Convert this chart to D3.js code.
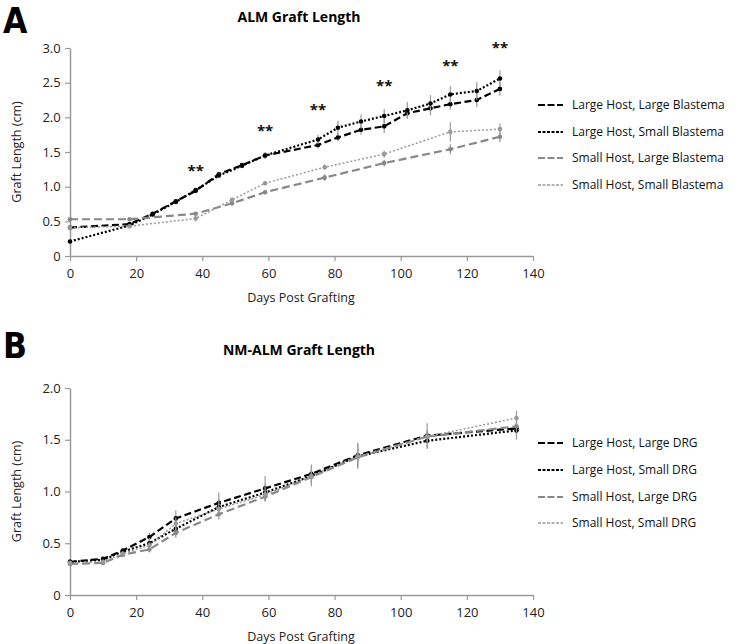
<!DOCTYPE html>
<html><head><meta charset="utf-8">
<script src="https://cdn.jsdelivr.net/npm/d3@7/dist/d3.min.js"></script>
<style>body{margin:0;background:#fff}svg{display:block;font-family:"Open Sans",sans-serif}</style>
</head><body><svg id="c" width="741" height="644"></svg>
<script>
// ---------- Panel A data ----------
const daysA_large = [0,18,25,32,38,45,52,59,75,81,88,95,102,109,115,123,130];
const A_LL = [0.41,0.46,0.61,0.79,0.94,1.18,1.31,1.45,1.60,1.71,1.82,1.87,2.06,2.13,2.19,2.25,2.41];
const A_LL_err = [0.02,0.03,0.03,0.03,0.03,0.04,0.03,0.04,0.05,0.06,0.07,0.1,0.08,0.1,0.08,0.1,0.1];
const A_LS = [0.21,0.44,0.60,0.78,0.95,1.16,1.30,1.45,1.68,1.85,1.94,2.02,2.10,2.20,2.33,2.38,2.56];
const A_LS_err = [0.02,0.02,0.03,0.03,0.03,0.04,0.03,0.05,0.07,0.1,0.1,0.1,0.12,0.12,0.12,0.13,0.12];
const daysA_small = [0,18,38,49,59,77,95,115,130];
const A_SL = [0.53,0.53,0.61,0.76,0.92,1.13,1.34,1.54,1.72];
const A_SL_err = [0.02,0.02,0.02,0.03,0.03,0.05,0.05,0.07,0.08];
const A_SS = [0.41,0.43,0.54,0.81,1.05,1.28,1.47,1.79,1.83];
const A_SS_err = [0.02,0.02,0.04,0.03,0.03,0.04,0.05,0.14,0.08];
const A_names = ["Large Host, Large Blastema","Large Host, Small Blastema","Small Host, Large Blastema","Small Host, Small Blastema"];
const A_starDays = [38,59,75,95,115,130];
const A_starVals = [1.29,1.86,2.16,2.51,2.80,3.06];
const A_yTicks = [0,0.5,1.0,1.5,2.0,2.5,3.0];

// ---------- Panel B data ----------
const daysB = [0,10,16,24,32,45,59,73,87,108,135];
const B_LL = [0.32,0.35,0.43,0.56,0.74,0.89,1.03,1.17,1.35,1.54,1.61];
const B_LL_err = [0.02,0.02,0.02,0.04,0.08,0.1,0.12,0.09,0.12,0.12,0.06];
const B_LS = [0.32,0.34,0.42,0.50,0.64,0.85,0.99,1.15,1.34,1.49,1.59];
const B_LS_err = [0.02,0.02,0.02,0.05,0.06,0.08,0.08,0.1,0.12,0.08,0.09];
const B_SL = [0.30,0.31,0.39,0.44,0.60,0.78,0.95,1.14,1.33,1.53,1.63];
const B_SL_err = [0.02,0.02,0.02,0.03,0.05,0.05,0.05,0.07,0.08,0.06,0.06];
const B_SS = [0.31,0.32,0.40,0.48,0.69,0.83,0.97,1.15,1.34,1.53,1.71];
const B_SS_err = [0.02,0.02,0.02,0.03,0.06,0.05,0.05,0.06,0.07,0.06,0.07];
const B_names = ["Large Host, Large DRG","Large Host, Small DRG","Small Host, Large DRG","Small Host, Small DRG"];
const B_yTicks = [0,0.5,1.0,1.5,2.0];

const xTicks = [0,20,40,60,80,100,120,140];

// ---------- styles ----------
const styles = [
  {color:"#000", width:2.2, dash:"7,3.5", mcolor:"#000"},
  {color:"#000", width:2.2, dash:"2,2", mcolor:"#000"},
  {color:"#888", width:2.2, dash:"8,4", mcolor:"#888"},
  {color:"#999", width:1.5, dash:"2,2", mcolor:"#999"}
];

const svg = d3.select("#c");
const fmt = d => d === 0 ? "0" : d3.format(".1f")(d);

function panel(cfg){
  const g = svg.append("g");
  const x = d3.scaleLinear().domain([0,140]).range([70,533]);
  const y = d3.scaleLinear().domain([0,cfg.ymax]).range([cfg.y0,cfg.y1]);

  // letter & title
  g.append("text").attr("x",3).attr("y",cfg.letterY).attr("font-size",35).attr("font-weight",700)
    .attr("font-family","'DejaVu Sans Condensed','DejaVu Sans',sans-serif").attr("font-stretch","condensed").text(cfg.letter);
  g.append("text").attr("x",299).attr("y",cfg.titleY).attr("text-anchor","middle")
    .attr("font-size",14).attr("font-weight",700).text(cfg.title);

  // axes
  const xa = g.append("g").attr("transform",`translate(0,${cfg.y0})`)
    .call(d3.axisBottom(x).tickValues(xTicks).tickSize(5).tickSizeOuter(0).tickFormat(d3.format("d")));
  const ya = g.append("g").attr("transform",`translate(70,0)`)
    .call(d3.axisLeft(y).tickValues(cfg.yTicks).tickSize(5).tickSizeOuter(0).tickFormat(fmt));
  [xa,ya].forEach(a=>{
    a.select(".domain").attr("stroke","#999").attr("stroke-width",1.5);
    a.selectAll(".tick line").attr("stroke","#999").attr("stroke-width",1.2);
    a.selectAll(".tick text").attr("font-size",13).attr("fill","#222").attr("font-family","'Open Sans',sans-serif");
  });
  xa.selectAll(".tick text").attr("dy","1.05em");
  ya.selectAll(".tick text").attr("dx","-0.1em");

  // axis labels
  g.append("text").attr("x",301).attr("y",cfg.y0+46).attr("text-anchor","middle")
    .attr("font-size",12.5).attr("fill","#222").text("Days Post Grafting");
  const cy = (cfg.y0+cfg.y1)/2;
  g.append("text").attr("transform",`translate(21,${cy}) rotate(-90)`).attr("text-anchor","middle")
    .attr("font-size",12.5).attr("fill","#222").text("Graft Length (cm)");

  // series
  cfg.series.forEach((s,i)=>{
    const st = styles[i];
    const pts = s.days.map((d,j)=>({d, v:s.vals[j], e:s.err[j]}));
    const sg = g.append("g");
    sg.selectAll("line.err").data(pts).join("line")
      .attr("x1",p=>x(p.d)).attr("x2",p=>x(p.d))
      .attr("y1",p=>y(p.v-p.e)).attr("y2",p=>y(p.v+p.e))
      .attr("stroke","#999").attr("stroke-width",1.2);
    sg.append("path").datum(pts)
      .attr("d",d3.line().x(p=>x(p.d)).y(p=>y(p.v)))
      .attr("fill","none").attr("stroke",st.color).attr("stroke-width",st.width)
      .attr("stroke-dasharray",st.dash);
    sg.selectAll("circle").data(pts).join("circle")
      .attr("cx",p=>x(p.d)).attr("cy",p=>y(p.v)).attr("r",2.3).attr("fill",st.mcolor);
  });

  // stars
  if(cfg.stars){
    g.selectAll("text.star").data(cfg.stars).join("text")
      .attr("x",p=>x(p.d)).attr("y",p=>y(p.v)+9).attr("text-anchor","middle")
      .attr("font-size",15).attr("font-weight",700).attr("fill","#111").text("**");
  }

  // legend
  cfg.names.forEach((n,i)=>{
    const st = styles[i];
    const ly = cfg.legY[i];
    g.append("line").attr("x1",538).attr("x2",563).attr("y1",ly).attr("y2",ly)
      .attr("stroke",st.color).attr("stroke-width",st.width).attr("stroke-dasharray",i===0||i===2?"7,2.5":"3,1.5");
    g.append("text").attr("x",572).attr("y",ly).attr("dy","0.35em")
      .attr("font-size",12).attr("fill","#111").text(n);
  });
}

panel({
  letter:"A", letterY:33, title:"ALM Graft Length", titleY:22,
  ymax:3, y0:256, y1:48, yTicks:A_yTicks,
  series:[
    {days:daysA_large, vals:A_LL, err:A_LL_err},
    {days:daysA_large, vals:A_LS, err:A_LS_err},
    {days:daysA_small, vals:A_SL, err:A_SL_err},
    {days:daysA_small, vals:A_SS, err:A_SS_err}
  ],
  stars: A_starDays.map((d,i)=>({d, v:A_starVals[i]})),
  names:A_names, legY:[105,132,158,185]
});
panel({
  letter:"B", letterY:358, title:"NM-ALM Graft Length", titleY:355,
  ymax:2, y0:595, y1:388, yTicks:B_yTicks,
  series:[
    {days:daysB, vals:B_LL, err:B_LL_err},
    {days:daysB, vals:B_LS, err:B_LS_err},
    {days:daysB, vals:B_SL, err:B_SL_err},
    {days:daysB, vals:B_SS, err:B_SS_err}
  ],
  names:B_names, legY:[443,470,497,523]
});
</script></body></html>
